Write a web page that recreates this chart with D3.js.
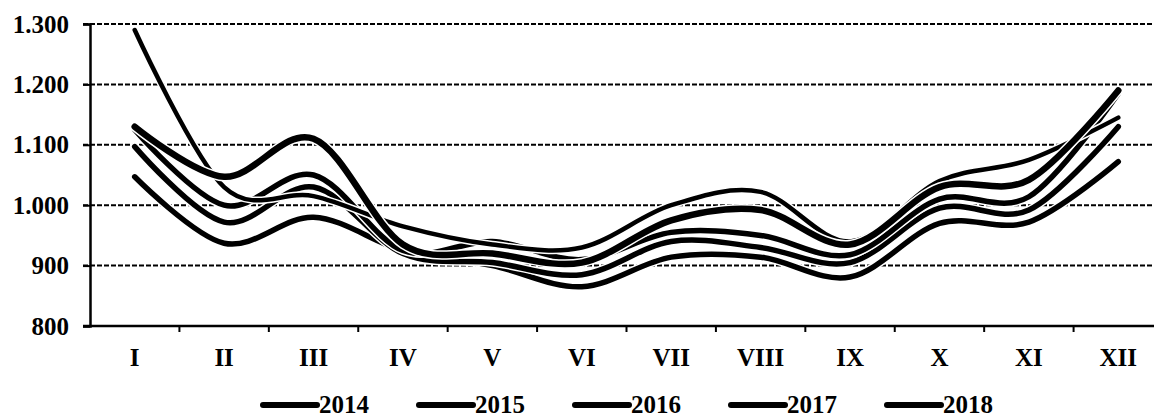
<!DOCTYPE html>
<html><head><meta charset="utf-8">
<script src="https://cdn.jsdelivr.net/npm/d3@7"></script>
<style>
html,body{margin:0;padding:0;background:#fff;}
svg text{font-family:"Liberation Serif","Times New Roman",serif;font-weight:bold;font-size:25px;fill:#000;}
</style></head>
<body><svg id="c" width="1154" height="417"></svg>
<script>
const months = ["I","II","III","IV","V","VI","VII","VIII","IX","X","XI","XII"];
const years = ["2014","2015","2016","2017","2018"];
const yTicks = [800,900,1000,1100,1200,1300];
const yTickLabels = ["800","900","1.000","1.100","1.200","1.300"];
const s2014 = [1290,1030,1015,965,935,930,1000,1022,940,1040,1075,1145];
const s2015 = [1047,937,980,925,900,865,914,914,881,970,972,1072];
const s2016 = [1097,972,1030,920,905,885,940,930,905,995,992,1130];
const s2017 = [1125,1000,1050,925,940,910,955,950,918,1010,1014,1185];
const s2018 = [1130,1047,1110,935,920,905,975,992,935,1030,1042,1190];
const seriesValues = [s2014,s2015,s2016,s2017,s2018];
const widths = [4.5,5.5,5.5,5.5,6.5];

const svg = d3.select("#c");
const x = d3.scaleBand().domain(months).range([90,1163]);
const y = d3.scaleLinear().domain([800,1300]).range([326,24]);

// gridlines
svg.append("g").selectAll("line").data(yTicks.filter(d=>d>800)).join("line")
  .attr("x1",83).attr("x2",1154).attr("y1",d=>y(d)).attr("y2",d=>y(d))
  .attr("stroke","#000").attr("stroke-width",2).attr("stroke-dasharray","5,2");

// y axis
const ya = svg.append("g").attr("transform","translate(90,0)")
  .call(d3.axisLeft(y).tickValues(yTicks).tickFormat((d,i)=>yTickLabels[i]).tickSize(7).tickPadding(14));
ya.select(".domain").attr("stroke","#000").attr("stroke-width",2.5);
ya.selectAll(".tick line").attr("stroke","#000").attr("stroke-width",2);
ya.selectAll("text").attr("font-size",25).attr("font-family",null);

// x axis
const xa = svg.append("g").attr("transform","translate(0,326)")
  .call(d3.axisBottom(x).tickSize(0).tickPadding(22));
xa.select(".domain").remove();
xa.selectAll("text").attr("font-size",25).attr("font-family",null);
svg.append("line").attr("x1",83).attr("x2",1154).attr("y1",326).attr("y2",326)
  .attr("stroke","#000").attr("stroke-width",2.5);
svg.append("g").selectAll("line").data(months.slice(1)).join("line")
  .attr("x1",d=>x(d)).attr("x2",d=>x(d)).attr("y1",326).attr("y2",332)
  .attr("stroke","#000").attr("stroke-width",2);

// lines
const line = d3.line().x((d,i)=>x(months[i])+x.bandwidth()/2).y(d=>y(d))
  .curve(d3.curveCatmullRom.alpha(0));
const order = [1,2,3,0,4];
order.forEach(k=>{
  svg.append("path").attr("d",line(seriesValues[k])).attr("fill","none")
    .attr("stroke","#fff").attr("stroke-width",widths[k]+3).attr("stroke-linecap","round");
  svg.append("path").attr("d",line(seriesValues[k])).attr("fill","none")
    .attr("stroke","#000").attr("stroke-width",widths[k]).attr("stroke-linecap","round");
});

// legend
const lg = svg.append("g").selectAll("g").data(years).join("g")
  .attr("transform",(d,i)=>`translate(${260+i*156},0)`);
lg.append("line").attr("x1",3).attr("x2",57).attr("y1",405).attr("y2",405)
  .attr("stroke","#000").attr("stroke-width",6).attr("stroke-linecap","round");
lg.append("text").attr("x",59).attr("y",413).text(d=>d);
</script></body></html>
